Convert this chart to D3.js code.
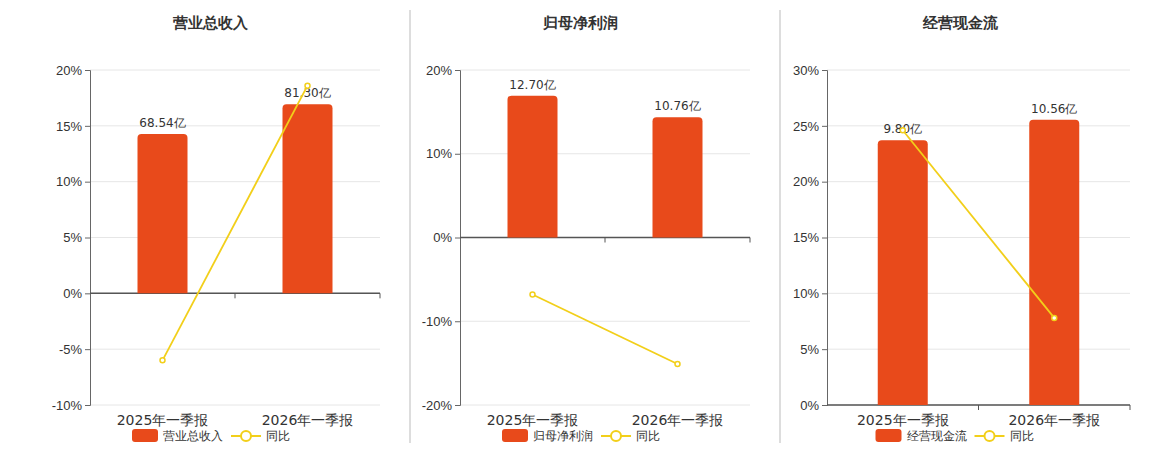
<!DOCTYPE html><html><head><meta charset="utf-8"><script src="https://cdn.jsdelivr.net/npm/d3@7"></script>
<style>body{margin:0;background:#fff;font-family:"DejaVu Sans",sans-serif}</style></head><body><svg id="c" width="1160" height="450"></svg>
<script>
const categories=["2025年一季报","2026年一季报"];
const titles=["营业总收入","归母净利润","经营现金流"];
const barValues=[[68.54,81.30],[12.70,10.76],[9.80,10.56]];
const barLabels=[["68.54亿","81.30亿"],["12.70亿","10.76亿"],["9.80亿","10.56亿"]];
const yoyValues=[[-6.0,18.6],[-6.8,-15.1],[24.6,7.8]];
const axisDomains=[[-10,20],[-20,20],[0,30]];
const axisTicks=[[-10,-5,0,5,10,15,20],[-20,-10,0,10,20],[0,5,10,15,20,25,30]];
const barMax=[96,15,12.4];
const panels=[{x0:90,x1:380,tx:210},{x0:460,x1:750,tx:580},{x0:827,x1:1130,tx:960}];
const svg=d3.select("#c");
[410,780].forEach(x=>svg.append("line").attr("x1",x).attr("x2",x).attr("y1",10).attr("y2",443).attr("stroke","#bbb"));
panels.forEach((p,i)=>{
  const g=svg.append("g");
  g.append("text").attr("x",p.tx).attr("y",28).attr("text-anchor","middle").attr("font-size",15).attr("font-weight","bold").attr("fill","#333").text(titles[i]);
  const y=d3.scaleLinear().domain(axisDomains[i]).range([405,70]);
  const x=d3.scaleBand().domain(categories).range([p.x0,p.x1]);
  const y0=y(0);
  const yb=d3.scaleLinear().domain([0,barMax[i]]).range([y0,70]);
  axisTicks[i].forEach(t=>g.append("line").attr("x1",p.x0).attr("x2",p.x1).attr("y1",y(t)).attr("y2",y(t)).attr("stroke","#e6e6e6"));
  const ax=g.append("g").attr("transform",`translate(${p.x0},0)`).call(d3.axisLeft(y).tickValues(axisTicks[i]).tickFormat(d=>d+"%").tickSize(5));
  ax.selectAll("text").attr("font-size",13).attr("fill","#333");ax.selectAll("path,line").attr("stroke","#666");
  g.append("line").attr("x1",p.x0).attr("x2",p.x1).attr("y1",y0).attr("y2",y0).attr("stroke","#555").attr("stroke-width",1.5);
  g.append("line").attr("x1",x(categories[1])).attr("x2",x(categories[1])).attr("y1",y0).attr("y2",y0+5).attr("stroke","#555");
  g.append("line").attr("x1",p.x1).attr("x2",p.x1).attr("y1",y0).attr("y2",y0+5).attr("stroke","#555");
  categories.forEach((c,j)=>{
    const cx=x(c)+x.bandwidth()/2;
    g.append("path").attr("fill","#e84a1b").attr("d",`M${cx-25},${y0}V${yb(barValues[i][j])+4}q0,-4 4,-4h42q4,0 4,4V${y0}Z`);
    g.append("text").attr("x",cx).attr("y",yb(barValues[i][j])-7).attr("text-anchor","middle").attr("font-size",12).attr("fill","#333").text(barLabels[i][j]);
    g.append("text").attr("x",cx).attr("y",425).attr("text-anchor","middle").attr("font-size",14).attr("fill","#333").text(c);
  });
  const line=d3.line().x((d,j)=>x(categories[j])+x.bandwidth()/2).y(d=>y(d));
  g.append("path").attr("d",line(yoyValues[i])).attr("fill","none").attr("stroke","#f2cf1a").attr("stroke-width",1.8);
  yoyValues[i].forEach((v,j)=>g.append("circle").attr("cx",x(categories[j])+x.bandwidth()/2).attr("cy",y(v)).attr("r",2.5).attr("fill","#fff").attr("stroke","#f2cf1a").attr("stroke-width",1.5));
  const lx=(p.x0+p.x1)/2-103;
  g.append("rect").attr("x",lx).attr("y",429).attr("width",26).attr("height",13).attr("rx",3).attr("fill","#e84a1b");
  g.append("text").attr("x",lx+31).attr("y",440).attr("font-size",12).attr("fill","#333").text(titles[i]);
  const l2=lx+31+titles[i].length*12+8;
  g.append("line").attr("x1",l2).attr("x2",l2+30).attr("y1",436).attr("y2",436).attr("stroke","#f2cf1a").attr("stroke-width",2);
  g.append("circle").attr("cx",l2+15).attr("cy",436).attr("r",5).attr("fill","#fff").attr("stroke","#f2cf1a").attr("stroke-width",2);
  g.append("text").attr("x",l2+35).attr("y",440).attr("font-size",12).attr("fill","#333").text("同比");
});
</script></body></html>
